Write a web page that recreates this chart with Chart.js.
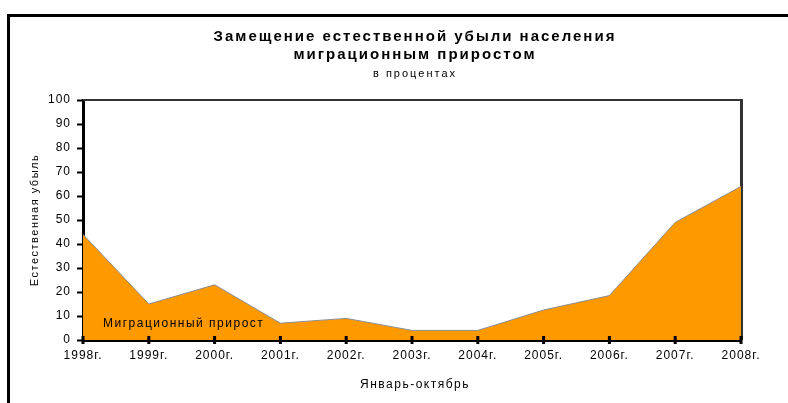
<!DOCTYPE html>
<html>
<head>
<meta charset="utf-8">
<script src="https://cdn.jsdelivr.net/npm/chart.js@4/dist/chart.umd.min.js"></script>
<style>
  html, body { margin: 0; padding: 0; background: #fff; }
  canvas { display: block; }
</style>
</head>
<body>
<canvas id="graphCanvas" width="788" height="403"></canvas>
<script>
// Data
const years = ['1998г.', '1999г.', '2000г.', '2001г.', '2002г.', '2003г.', '2004г.', '2005г.', '2006г.', '2007г.', '2008г.'];
const migrationShare = [44, 15, 23, 7, 9, 4, 4, 12.5, 18.5, 49, 64];

const titleLines = ['Замещение естественной убыли населения', 'миграционным приростом'];
const subtitleText = 'в процентах';
const yTitle = 'Естественная убыль';
const xTitle = 'Январь-октябрь';
const areaLabel = 'Миграционный прирост';

const FONT = '"Liberation Sans", Arial, sans-serif';

// frame, titles and little extras drawn on the canvas
const decor = {
  id: 'decor',
  beforeUpdate(chart) {
    chart.ctx.letterSpacing = '1px';
  },
  beforeDraw(chart) {
    const ctx = chart.ctx;
    ctx.save();
    ctx.fillStyle = '#fff';
    ctx.fillRect(0, 0, chart.width, chart.height);
    ctx.restore();
  },
  beforeDatasetsDraw(chart) {
    const { ctx, chartArea: a } = chart;
    ctx.save();
    ctx.fillStyle = '#333';
    ctx.fillRect(a.left, a.top - 1, a.right - a.left + 2, 2);
    ctx.fillRect(a.right - 1, a.top - 1, 3, a.bottom - a.top + 1);
    ctx.restore();
  },
  afterDraw(chart) {
    const { ctx, chartArea: a } = chart;
    const cx = 415;
    ctx.save();
    // outer frame (top and left only)
    ctx.fillStyle = '#000';
    ctx.fillRect(7, 14, chart.width - 7, 3);
    ctx.fillRect(7, 14, 3, chart.height - 14);

    ctx.textAlign = 'center';
    ctx.textBaseline = 'middle';
    ctx.letterSpacing = '2px';
    ctx.font = 'bold 15px ' + FONT;
    ctx.fillText(titleLines[0], cx, 37);
    ctx.fillText(titleLines[1], cx, 55);
    ctx.font = '11px ' + FONT;
    ctx.fillText(subtitleText, cx, 74);

    ctx.letterSpacing = '1.5px';
    ctx.font = '12px ' + FONT;
    ctx.fillText(xTitle, cx, 385);

    ctx.save();
    ctx.font = '11px ' + FONT;
    ctx.translate(35, 220);
    ctx.rotate(-Math.PI / 2);
    ctx.fillText(yTitle, 0, 0);
    ctx.restore();

    ctx.textAlign = 'left';
    ctx.fillText(areaLabel, 103, 324);

    // x tick marks crossing the axis
    const xs = chart.scales.x;
    years.forEach((_, i) => {
      const px = xs.getPixelForValue(i);
      ctx.fillRect(px - 1.5, a.bottom - 4, 3, 8);
    });
    ctx.restore();
  }
};

const ctx = document.getElementById('graphCanvas').getContext('2d');

const chart = new Chart(ctx, {
  type: 'line',
  data: {
    labels: years,
    datasets: [{
      data: migrationShare,
      backgroundColor: '#ff9900',
      borderColor: '#8c8c8c',
      borderWidth: 1,
      fill: 'origin',
      tension: 0,
      pointRadius: 0,
    }],
  },
  options: {
    responsive: false,
    animation: false,
    layout: { padding: { top: 100, right: 47, bottom: 0, left: 0 } },
    plugins: {
      legend: { display: false },
      tooltip: { enabled: false },
    },
    scales: {
      x: {
        offset: false,
        afterFit(scale) { scale.height = 63; },
        grid: { drawOnChartArea: false, tickLength: 4, tickWidth: 0, color: '#000' },
        border: { color: '#000', width: 3 },
        ticks: {
          color: '#000',
          font: { family: FONT, size: 12 },
          padding: 4,
          maxRotation: 0,
          autoSkip: false,
        },
      },
      y: {
        min: 0,
        max: 100,
        afterFit(scale) { scale.width = 83; },
        grid: { drawOnChartArea: false, tickLength: 6, tickWidth: 2, color: '#000' },
        border: { color: '#000', width: 3 },
        ticks: {
          stepSize: 10,
          color: '#000',
          font: { family: FONT, size: 12 },
          padding: 6,
        },
      },
    },
  },
  plugins: [decor],
});
</script>
</body>
</html>
